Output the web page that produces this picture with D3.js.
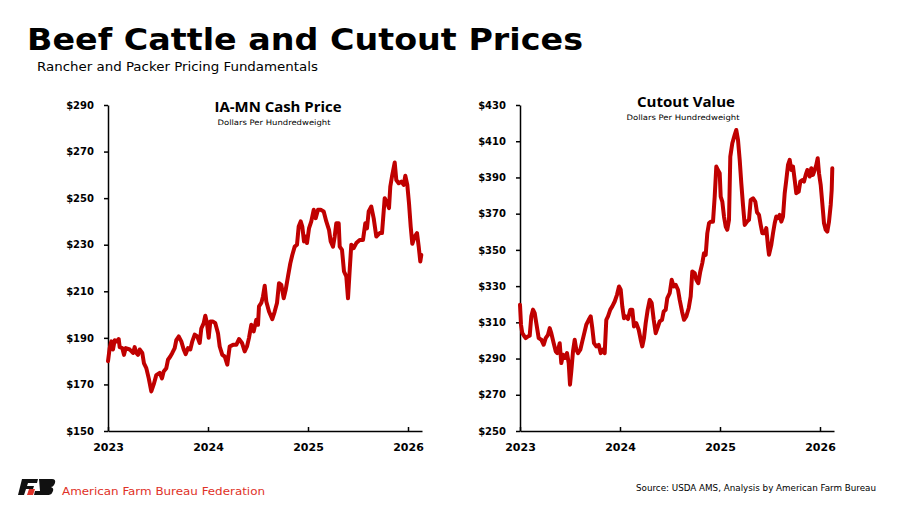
<!DOCTYPE html>
<html>
<head>
<meta charset="utf-8">
<script src="https://cdn.jsdelivr.net/npm/d3@7"></script>
<style>
  body { margin: 0; background: #fff; }
  svg { display: block; }
</style>
</head>
<body>
<svg id="chart" width="900" height="506"></svg>
<script>
// IA-MN cash price, $/cwt
var cashYears = [2023.000,2023.017,2023.033,2023.050,2023.067,2023.090,2023.107,2023.117,2023.143,2023.160,2023.177,2023.217,2023.250,2023.267,2023.283,2023.300,2023.317,2023.343,2023.360,2023.383,2023.407,2023.433,2023.457,2023.483,2023.517,2023.540,2023.557,2023.583,2023.600,2023.623,2023.643,2023.667,2023.683,2023.707,2023.733,2023.757,2023.777,2023.800,2023.823,2023.843,2023.867,2023.893,2023.917,2023.933,2023.957,2023.973,2023.990,
  2024.007,2024.023,2024.050,2024.073,2024.100,2024.117,2024.143,2024.167,2024.193,2024.217,2024.250,2024.283,2024.310,2024.340,2024.367,2024.390,2024.410,2024.433,2024.457,2024.483,2024.500,2024.510,2024.533,2024.550,2024.567,2024.583,2024.610,2024.643,2024.667,2024.690,2024.710,2024.733,2024.757,2024.777,2024.800,2024.823,2024.843,2024.867,2024.890,2024.907,2024.927,2024.943,2024.960,2024.977,2024.990,
  2025.010,2025.033,2025.057,2025.077,2025.100,2025.127,2025.157,2025.183,2025.210,2025.227,2025.250,2025.267,2025.283,2025.307,2025.317,2025.340,2025.360,2025.383,2025.400,2025.417,2025.433,2025.457,2025.483,2025.517,2025.550,2025.573,2025.590,2025.607,2025.633,2025.657,2025.683,2025.717,2025.740,2025.767,2025.790,2025.810,2025.823,2025.840,2025.867,2025.883,2025.907,2025.933,2025.957,2025.973,2025.993,
  2026.010,2026.027,2026.043,2026.067,2026.090,2026.107,2026.123,2026.133];
var cashPrice = [180,185.6,188.5,185,189,188.5,189.5,186,185.6,182.7,185.6,185,183.5,186,183.5,182.7,185,183.5,179,177,172.7,167,170,174,175,172.6,175.6,177,180.6,182,183.5,185.6,189,190.6,188.5,185,183,185.6,185,188.5,191.4,190.6,187.8,194,196.3,199.5,196.3,
  190,197,197,196.3,192,186.3,182.7,182,178.5,186.3,187,187,189.5,187.8,184.2,186.3,190,195.6,192.8,197.8,195.6,203.5,205,207.8,212.4,205.6,201.3,198,201.3,205,213.5,212.8,207,210.6,216.4,222,225.6,229.2,230,237.8,240,237.8,231.4,233.5,230.7,
  237,240,245,241.4,245,245,244.3,240,236.4,231.4,229.2,233.5,239.2,239.2,229.2,227.8,218.5,216.4,207,219.2,230,228.5,230.7,232,232,239.2,237,244.3,246.4,241.3,233.5,235,235,250,248,245.7,255,259.3,265.3,257.8,256.4,257.1,255.7,259.6,255.7,
  247.8,237.8,230.4,233.5,235,229.2,222.8,225.6];

// Boxed beef cutout value, $/cwt
var cutoutYears = [2023.000,2023.010,2023.023,2023.040,2023.057,2023.080,2023.097,2023.113,2023.130,2023.147,2023.163,2023.187,2023.213,2023.237,2023.257,2023.280,2023.297,2023.313,2023.337,2023.357,2023.373,2023.397,2023.413,2023.430,2023.450,2023.470,2023.487,2023.500,2023.513,2023.530,2023.547,2023.563,2023.580,2023.603,2023.623,2023.647,2023.663,2023.687,2023.707,2023.723,2023.740,2023.763,2023.787,2023.807,2023.830,2023.847,2023.863,2023.880,2023.903,2023.923,2023.947,2023.970,2023.990,
  2024.007,2024.023,2024.040,2024.057,2024.080,2024.103,2024.123,2024.140,2024.163,2024.187,2024.207,2024.223,2024.240,2024.257,2024.277,2024.297,2024.317,2024.337,2024.357,2024.380,2024.397,2024.420,2024.437,2024.457,2024.473,2024.497,2024.517,2024.537,2024.557,2024.580,2024.597,2024.620,2024.640,2024.663,2024.687,2024.707,2024.723,2024.747,2024.763,2024.783,2024.803,2024.823,2024.840,2024.857,2024.873,2024.890,2024.907,2024.930,2024.947,2024.963,2024.980,2024.997,
  2025.007,2025.023,2025.040,2025.057,2025.073,2025.090,2025.103,2025.123,2025.147,2025.163,2025.180,2025.197,2025.213,2025.230,2025.247,2025.270,2025.290,2025.307,2025.330,2025.353,2025.370,2025.390,2025.407,2025.423,2025.447,2025.463,2025.480,2025.490,2025.513,2025.530,2025.547,2025.563,2025.580,2025.597,2025.613,2025.630,2025.647,2025.663,2025.680,2025.697,2025.713,2025.730,2025.747,2025.763,2025.787,2025.803,2025.823,2025.840,2025.857,2025.873,2025.897,2025.913,2025.930,2025.947,2025.963,2025.977,2025.990,
  2026.007,2026.023,2026.040,2026.057,2026.073,2026.090,2026.107,2026.117,2026.123];
var cutoutValue = [319.7,308.7,304,302.6,301.3,302.2,302.6,313.3,317,315.1,309.6,301.3,300.4,297.6,301.3,303.1,306.8,304,298.5,294,293,298.5,287.5,292.1,290.3,293,287.5,275.6,283,294,300.4,294.9,293,294.9,299.5,305,308.7,311.4,313.3,306.8,298.5,296.7,297.6,293,294.9,293,311.4,313.3,317,318.8,321.5,325.2,329.8,
  328,318.8,312.3,313.3,311.8,317,317,307.7,309.6,305.9,300.4,296.7,301.3,309.6,317,322.4,320.6,311.4,304,307.7,310.5,311.4,316,317,323.4,326.1,333.5,329.8,330.7,328,322.4,316,311.4,313.3,317.8,324.3,338.1,337.2,333.5,331.6,338.1,342.7,348.2,347.3,359.2,364.7,365.6,365.6,379.4,396,394.1,392.3,
  379.4,376.7,368.4,362.9,361.1,366.6,401.5,408.9,413.5,416.2,410.7,399.7,386.8,374.8,363.8,365.6,366.6,377.6,378.5,376.7,370.8,369.3,363.8,359.2,359.2,362,351.9,347.3,352.8,359.2,364.7,368.4,367.5,369.3,365.6,368.4,381.3,388.6,396.9,399.7,394.1,396,388.6,381.3,382.2,387.7,388.6,387.7,391.4,394.1,390.5,395.1,391.4,394.1,396.9,400.6,392.3,
  385.9,375.8,364.7,361.1,360.1,365.6,374.8,383.1,395.1];

var yearTicks = [2023, 2024, 2025, 2026];
var cashTicks = [150, 170, 190, 210, 230, 250, 270, 290];
var cutoutTicks = [250, 270, 290, 310, 330, 350, 370, 390, 410, 430];

var lineRed = "#c00000";
var svg = d3.select("#chart");

// page titles
svg.append("text")
    .attr("x", 27).attr("y", 50)
    .attr("font-family", "DejaVu Sans").attr("font-weight", "bold")
    .attr("font-size", 30)
    .attr("textLength", 556).attr("lengthAdjust", "spacingAndGlyphs")
    .text("Beef Cattle and Cutout Prices");
svg.append("text")
    .attr("x", 37).attr("y", 71)
    .attr("font-family", "DejaVu Sans Condensed, DejaVu Sans").attr("font-size", 13)
    .attr("textLength", 281).attr("lengthAdjust", "spacingAndGlyphs")
    .text("Rancher and Packer Pricing Fundamentals");

function drawPanel(opt) {
    var x = d3.scaleLinear().domain([2023, 2026.14]).range([opt.left, opt.left + 314]);
    var y = d3.scaleLinear().domain(opt.yDomain).range([431, 105]);
    var g = svg.append("g");

    var yAxis = g.append("g")
        .attr("transform", "translate(" + opt.left + ",0)")
        .call(d3.axisLeft(y).tickValues(opt.ticks).tickSizeInner(4).tickSizeOuter(0)
            .tickPadding(10).tickFormat(function (d) { return "$" + d; }));
    yAxis.selectAll("text")
        .attr("font-family", "DejaVu Sans").attr("font-weight", "bold")
        .attr("font-size", 10).attr("fill", "#000");

    var xAxis = g.append("g")
        .attr("transform", "translate(0,431)")
        .call(d3.axisBottom(x).tickValues(yearTicks).tickSizeInner(-4).tickSizeOuter(0)
            .tickPadding(12).tickFormat(d3.format("d")));
    xAxis.selectAll("text")
        .attr("font-family", "DejaVu Sans").attr("font-weight", "bold")
        .attr("font-size", 11).attr("fill", "#000");

    g.selectAll(".domain, .tick line").attr("stroke", "#000").attr("stroke-width", 1.5);

    var pts = opt.xs.map(function (t, i) { return [t, opt.ys[i]]; });
    g.append("path")
        .datum(pts)
        .attr("fill", "none")
        .attr("stroke", lineRed)
        .attr("stroke-width", 4)
        .attr("stroke-linejoin", "round")
        .attr("stroke-linecap", "round")
        .attr("d", d3.line()
            .x(function (d) { return x(d[0]); })
            .y(function (d) { return y(d[1]); }));

    g.append("text")
        .attr("x", opt.titleX).attr("y", opt.titleY)
        .attr("text-anchor", "middle")
        .attr("font-family", "Open Sans").attr("font-weight", "bold")
        .attr("font-size", 15)
        .attr("textLength", opt.titleW).attr("lengthAdjust", "spacingAndGlyphs")
        .text(opt.title);
    g.append("text")
        .attr("x", opt.subX).attr("y", opt.titleY + 12.5)
        .attr("text-anchor", "middle")
        .attr("font-family", "DejaVu Sans Condensed, DejaVu Sans").attr("font-size", 7.5)
        .attr("textLength", 113).attr("lengthAdjust", "spacingAndGlyphs")
        .text("Dollars Per Hundredweight");
}

drawPanel({left: 108, yDomain: [150, 290], ticks: cashTicks, xs: cashYears, ys: cashPrice,
    title: "IA-MN Cash Price", titleX: 278, titleY: 112, titleW: 127, subX: 274});
drawPanel({left: 520, yDomain: [250, 430], ticks: cutoutTicks, xs: cutoutYears, ys: cutoutValue,
    title: "Cutout Value", titleX: 686, titleY: 107, titleW: 98, subX: 683});

// footer: AFBF mark and wordmark
var logo = svg.append("g").attr("transform", "translate(18,479)");
logo.append("path").attr("fill", "#111")
    .attr("d", "M4,0 L20,0 L19,4 L10,4 L9,7 L16,7 L15,10 L8,10 L6,16 L0,16 Z");
logo.append("path").attr("fill", "#111")
    .attr("d", "M21,0 L34,0 Q38,0 37,4 L36,6 Q35,8 33,8 Q36,9 35,12 L34,14 Q33,16 29,16 L16,16 L17,12 L22,12 Z");
logo.append("path").attr("fill", "#e03127")
    .attr("d", "M11,10 L17,10 L15,16 L9,16 Z");
svg.append("text")
    .attr("x", 62).attr("y", 495)
    .attr("font-family", "DejaVu Sans Condensed, DejaVu Sans").attr("font-size", 11)
    .attr("fill", "#e03127")
    .attr("textLength", 203).attr("lengthAdjust", "spacingAndGlyphs")
    .text("American Farm Bureau Federation");
svg.append("text")
    .attr("x", 636).attr("y", 491)
    .attr("font-family", "DejaVu Sans Condensed, DejaVu Sans").attr("font-size", 8.5)
    .attr("fill", "#000")
    .attr("textLength", 240).attr("lengthAdjust", "spacingAndGlyphs")
    .text("Source: USDA AMS, Analysis by American Farm Bureau");
</script>
</body>
</html>
